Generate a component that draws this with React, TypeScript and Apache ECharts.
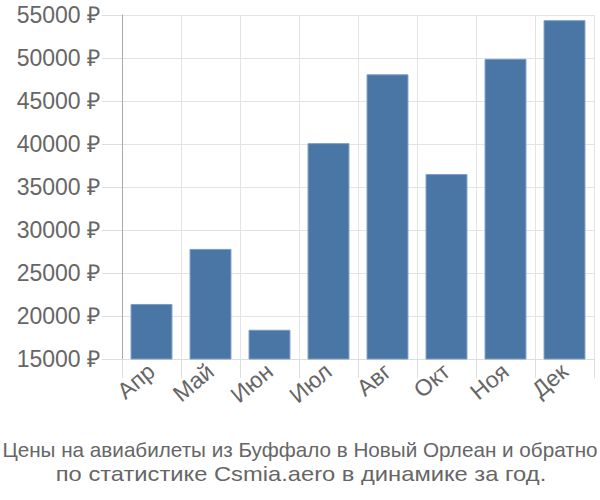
import React, { useEffect, useRef } from "react";
import * as echarts from "echarts";

const categories = ["Апр", "Май", "Июн", "Июл", "Авг", "Окт", "Ноя", "Дек"];
const prices = [21400, 27800, 18400, 40100, 48100, 36500, 49900, 54400];
const yTicks = { min: 15000, max: 55000, interval: 5000 };
const titleLines = [
  "Цены на авиабилеты из Буффало в Новый Орлеан и обратно",
  "по статистике Csmia.aero в динамике за год.",
];

const FONT = "'Liberation Sans', Arial, sans-serif";

export default function App() {
  const ref = useRef<HTMLDivElement>(null);
  useEffect(() => {
    if (!ref.current) return;
    const chart = echarts.init(ref.current, undefined, { renderer: "svg" });
    chart.setOption({
      animation: false,
      graphic: [
        {
          type: "text",
          x: 300,
          y: 449,
          scaleX: 0.985,
          style: {
            text: titleLines[0],
            font: `21px ${FONT}`,
            fill: "#666",
            align: "center",
            verticalAlign: "middle",
          },
        },
        {
          type: "text",
          x: 301,
          y: 474,
          scaleX: 1.13,
          style: {
            text: titleLines[1],
            font: `21px ${FONT}`,
            fill: "#666",
            align: "center",
            verticalAlign: "middle",
          },
        },
      ],
      grid: { left: 122, right: 6, top: 15, bottom: 141 },
      xAxis: {
        type: "category",
        data: categories,
        axisLine: { show: true, lineStyle: { color: "#ddd" } },
        axisTick: { show: true, length: 19, lineStyle: { color: "#ddd" } },
        splitLine: { show: true, lineStyle: { color: "#e3e3e3" } },
        axisLabel: {
          rotate: 40,
          margin: 9,
          fontSize: 23,
          color: "#666",
          fontFamily: FONT,
        },
      },
      yAxis: {
        type: "value",
        min: yTicks.min,
        max: yTicks.max,
        interval: yTicks.interval,
        axisLine: { show: true, lineStyle: { color: "#aaa" } },
        axisTick: { show: true, length: 20, lineStyle: { color: "#ddd" } },
        splitLine: { show: true, lineStyle: { color: "#e3e3e3" } },
        axisLabel: {
          margin: 22,
          fontSize: 23,
          color: "#666",
          fontFamily: FONT,
          formatter: (v: number) => `${v} ₽`,
        },
      },
      series: [
        {
          type: "bar",
          data: prices,
          barWidth: "71%",
          itemStyle: { color: "#4a76a6", borderColor: "#7a9cc4", borderWidth: 1 },
        },
      ],
    });
    return () => chart.dispose();
  }, []);
  return (
    <div
      ref={ref}
      style={{ position: "absolute", left: 0, top: 0, width: 600, height: 500 }}
    />
  );
}
